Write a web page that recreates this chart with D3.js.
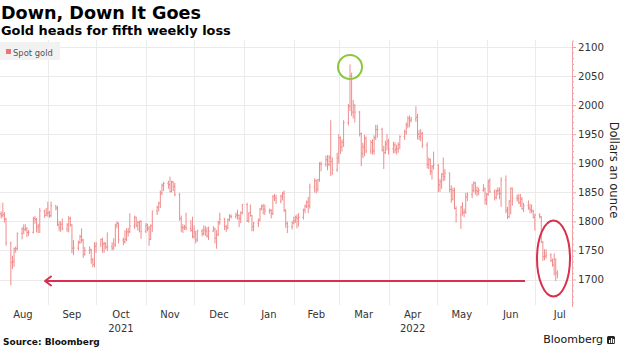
<!DOCTYPE html>
<html><head><meta charset="utf-8">
<script src="https://cdn.jsdelivr.net/npm/d3@7"></script>
<style>body{margin:0;background:#fff}svg{display:block}</style>
</head><body><svg id="c" width="620" height="348"></svg>
<script>
// ---- data: spot gold daily OHLC ----
const dates = [
"2021-08-02","2021-08-03","2021-08-04","2021-08-05","2021-08-06","2021-08-09","2021-08-10","2021-08-11","2021-08-12","2021-08-13","2021-08-16","2021-08-17","2021-08-18","2021-08-19","2021-08-20","2021-08-23","2021-08-24","2021-08-25","2021-08-26","2021-08-27","2021-08-30","2021-08-31",
"2021-09-01","2021-09-02","2021-09-03","2021-09-06","2021-09-07","2021-09-08","2021-09-09","2021-09-10","2021-09-13","2021-09-14","2021-09-15","2021-09-16","2021-09-17","2021-09-20","2021-09-21","2021-09-22","2021-09-23","2021-09-24","2021-09-27","2021-09-28","2021-09-29","2021-09-30",
"2021-10-01","2021-10-04","2021-10-05","2021-10-06","2021-10-07","2021-10-08","2021-10-11","2021-10-12","2021-10-13","2021-10-14","2021-10-15","2021-10-18","2021-10-19","2021-10-20","2021-10-21","2021-10-22","2021-10-25","2021-10-26","2021-10-27","2021-10-28","2021-10-29",
"2021-11-01","2021-11-02","2021-11-03","2021-11-04","2021-11-05","2021-11-08","2021-11-09","2021-11-10","2021-11-11","2021-11-12","2021-11-15","2021-11-16","2021-11-17","2021-11-18","2021-11-19","2021-11-22","2021-11-23","2021-11-24","2021-11-25","2021-11-26","2021-11-29","2021-11-30",
"2021-12-01","2021-12-02","2021-12-03","2021-12-06","2021-12-07","2021-12-08","2021-12-09","2021-12-10","2021-12-13","2021-12-14","2021-12-15","2021-12-16","2021-12-17","2021-12-20","2021-12-21","2021-12-22","2021-12-23","2021-12-24","2021-12-27","2021-12-28","2021-12-29","2021-12-30","2021-12-31",
"2022-01-03","2022-01-04","2022-01-05","2022-01-06","2022-01-07","2022-01-10","2022-01-11","2022-01-12","2022-01-13","2022-01-14","2022-01-17","2022-01-18","2022-01-19","2022-01-20","2022-01-21","2022-01-24","2022-01-25","2022-01-26","2022-01-27","2022-01-28","2022-01-31",
"2022-02-01","2022-02-02","2022-02-03","2022-02-04","2022-02-07","2022-02-08","2022-02-09","2022-02-10","2022-02-11","2022-02-14","2022-02-15","2022-02-16","2022-02-17","2022-02-18","2022-02-21","2022-02-22","2022-02-23","2022-02-24","2022-02-25","2022-02-28",
"2022-03-01","2022-03-02","2022-03-03","2022-03-04","2022-03-07","2022-03-08","2022-03-09","2022-03-10","2022-03-11","2022-03-14","2022-03-15","2022-03-16","2022-03-17","2022-03-18","2022-03-21","2022-03-22","2022-03-23","2022-03-24","2022-03-25","2022-03-28","2022-03-29","2022-03-30","2022-03-31",
"2022-04-01","2022-04-04","2022-04-05","2022-04-06","2022-04-07","2022-04-08","2022-04-11","2022-04-12","2022-04-13","2022-04-14","2022-04-15","2022-04-18","2022-04-19","2022-04-20","2022-04-21","2022-04-22","2022-04-25","2022-04-26","2022-04-27","2022-04-28","2022-04-29",
"2022-05-02","2022-05-03","2022-05-04","2022-05-05","2022-05-06","2022-05-09","2022-05-10","2022-05-11","2022-05-12","2022-05-13","2022-05-16","2022-05-17","2022-05-18","2022-05-19","2022-05-20","2022-05-23","2022-05-24","2022-05-25","2022-05-26","2022-05-27","2022-05-30","2022-05-31",
"2022-06-01","2022-06-02","2022-06-03","2022-06-06","2022-06-07","2022-06-08","2022-06-09","2022-06-10","2022-06-13","2022-06-14","2022-06-15","2022-06-16","2022-06-17","2022-06-20","2022-06-21","2022-06-22","2022-06-23","2022-06-24","2022-06-27","2022-06-28","2022-06-29","2022-06-30",
"2022-07-01","2022-07-04","2022-07-05","2022-07-06","2022-07-07","2022-07-08","2022-07-11","2022-07-12","2022-07-13","2022-07-14","2022-07-15"
];
const opens = [
1813,1813,1810,1812,1804,1763,1729,1731,1753,1753,1779,1787,1786,1788,1781,1781,1805,1803,1790,1793,1818,1810,
1814,1815,1810,1827,1823,1794,1789,1795,1787,1794,1805,1794,1754,1754,1764,1774,1768,1743,1750,1751,1734,1726,
1757,1761,1769,1761,1762,1756,1757,1754,1760,1793,1797,1768,1765,1769,1782,1782,1792,1807,1793,1798,1800,
1783,1793,1788,1769,1792,1818,1824,1831,1849,1862,1865,1863,1851,1868,1860,1846,1805,1790,1789,1790,1788,1785,
1774,1782,1768,1783,1779,1785,1783,1775,1783,1787,1771,1777,1798,1804,1791,1789,1803,1809,1808,1811,1810,1805,1815,
1829,1801,1815,1810,1791,1797,1802,1821,1826,1821,1818,1819,1813,1843,1840,1835,1843,1848,1819,1796,1791,
1797,1801,1807,1805,1807,1820,1826,1833,1827,1859,1870,1855,1872,1899,1898,1906,1898,1910,1903,1889,
1909,1944,1928,1936,1970,1998,2050,1988,2000,1988,1951,1917,1928,1943,1921,1936,1921,1944,1958,1958,1923,1918,1933,
1937,1925,1932,1923,1925,1932,1946,1954,1966,1977,1974,1976,1979,1950,1946,1951,1931,1898,1906,1886,1894,
1897,1863,1868,1881,1877,1883,1855,1838,1853,1822,1811,1825,1815,1816,1842,1846,1853,1866,1853,1851,1853,1856,
1837,1847,1869,1851,1841,1852,1853,1848,1871,1819,1808,1835,1857,1840,1839,1832,1838,1822,1827,1823,1820,1818,
1807,1811,1808,1764,1739,1740,1742,1733,1725,1735,1711
];
const highs = [
1832,1817,1832,1816,1806,1765,1741,1755,1757,1781,1790,1795,1795,1790,1785,1808,1809,1806,1796,1823,1820,1823,
1834,1818,1834,1828,1827,1801,1800,1805,1797,1809,1808,1795,1768,1767,1777,1788,1770,1756,1757,1753,1737,1764,
1765,1770,1772,1765,1764,1781,1764,1771,1796,1800,1798,1772,1785,1788,1789,1814,1810,1808,1801,1801,1802,
1797,1796,1792,1795,1818,1827,1834,1853,1865,1868,1870,1877,1870,1869,1866,1849,1810,1795,1794,1815,1802,1808,
1793,1783,1786,1787,1793,1792,1790,1791,1792,1789,1785,1801,1815,1806,1794,1805,1812,1812,1815,1820,1812,1817,1830,
1832,1815,1829,1811,1799,1805,1823,1829,1830,1829,1822,1821,1845,1847,1846,1846,1851,1853,1821,1800,1801,
1808,1810,1812,1814,1822,1829,1836,1842,1865,1874,1872,1873,1902,1903,1913,1914,1914,1974,1910,1918,
1950,1946,1941,1974,2002,2070,2056,2009,2001,1990,1953,1935,1949,1946,1940,1941,1948,1966,1966,1961,1930,1939,1950,
1942,1937,1936,1932,1936,1948,1958,1970,1981,1982,1980,1998,1985,1957,1959,1954,1936,1910,1908,1897,1920,
1898,1873,1883,1910,1890,1884,1862,1858,1858,1826,1826,1833,1822,1849,1850,1865,1869,1868,1860,1858,1864,1858,
1849,1872,1874,1855,1855,1859,1858,1876,1879,1825,1836,1858,1858,1846,1847,1847,1842,1832,1836,1830,1829,1820,
1813,1814,1809,1766,1752,1752,1745,1736,1745,1736,1716
];
const lows = [
1807,1805,1807,1798,1758,1690,1718,1722,1746,1750,1769,1778,1783,1773,1775,1779,1796,1781,1780,1780,1806,1809,
1808,1806,1807,1819,1792,1783,1782,1785,1782,1781,1791,1745,1742,1750,1761,1763,1737,1741,1744,1727,1721,1721,
1746,1756,1746,1746,1752,1749,1750,1751,1756,1788,1762,1759,1762,1766,1774,1780,1787,1790,1784,1781,1770,
1780,1783,1758,1768,1782,1811,1817,1823,1845,1852,1856,1850,1850,1852,1843,1801,1782,1780,1785,1785,1782,1771,
1770,1762,1765,1774,1776,1775,1772,1768,1782,1762,1753,1775,1794,1785,1782,1786,1800,1805,1805,1803,1790,1797,1812,
1799,1798,1808,1783,1783,1790,1800,1819,1812,1811,1813,1805,1811,1835,1830,1831,1836,1816,1789,1780,1786,
1795,1797,1788,1791,1803,1814,1823,1814,1822,1850,1848,1851,1868,1886,1894,1888,1895,1878,1880,1885,
1899,1916,1920,1928,1965,1990,1981,1977,1970,1946,1895,1909,1912,1917,1916,1915,1915,1940,1944,1920,1890,1916,1922,
1915,1917,1917,1915,1918,1924,1940,1949,1960,1962,1970,1971,1941,1940,1938,1926,1891,1890,1880,1872,1889,
1850,1851,1856,1869,1870,1850,1832,1836,1821,1798,1787,1810,1807,1813,1835,1840,1850,1846,1843,1845,1851,1829,
1828,1844,1849,1836,1838,1845,1838,1825,1814,1804,1806,1812,1827,1834,1830,1825,1820,1816,1820,1814,1814,1805,
1784,1805,1763,1732,1733,1736,1730,1722,1707,1697,1702
];
const closes = [
1813,1810,1812,1804,1763,1729,1731,1753,1753,1779,1787,1786,1788,1781,1781,1805,1803,1790,1793,1818,1810,1814,
1815,1810,1827,1823,1794,1789,1795,1787,1794,1805,1794,1754,1754,1764,1774,1768,1743,1750,1751,1734,1726,1757,
1761,1769,1761,1762,1756,1757,1754,1760,1793,1797,1768,1765,1769,1782,1782,1792,1807,1793,1798,1800,1783,
1793,1788,1769,1792,1818,1824,1831,1849,1862,1865,1863,1851,1868,1860,1846,1805,1790,1789,1790,1788,1785,1774,
1782,1768,1783,1779,1785,1783,1775,1783,1787,1771,1777,1798,1804,1791,1789,1803,1809,1808,1811,1810,1805,1815,1829,
1801,1815,1810,1791,1797,1802,1821,1826,1821,1818,1819,1813,1843,1840,1835,1843,1848,1819,1796,1791,1797,
1801,1807,1805,1807,1820,1826,1833,1827,1859,1870,1855,1872,1899,1898,1906,1898,1910,1903,1889,1909,
1944,1928,1936,1970,1998,2050,1988,2000,1988,1951,1917,1928,1943,1921,1936,1921,1944,1958,1958,1923,1918,1933,1937,
1925,1932,1923,1925,1932,1946,1954,1966,1977,1974,1976,1979,1950,1946,1951,1931,1898,1906,1886,1894,1897,
1863,1868,1881,1877,1883,1855,1838,1853,1822,1811,1825,1815,1816,1842,1846,1853,1866,1853,1851,1853,1856,1837,
1847,1869,1851,1841,1852,1853,1848,1871,1819,1808,1835,1857,1840,1839,1832,1838,1822,1827,1823,1820,1818,1807,
1811,1808,1764,1739,1740,1742,1733,1725,1735,1711,1708
];
const yTicks = [1700,1750,1800,1850,1900,1950,2000,2050,2100];
const monthStarts = ["2021-08-01","2021-09-01","2021-10-01","2021-11-01","2021-12-01","2022-01-01","2022-02-01","2022-03-01","2022-04-01","2022-05-01","2022-06-01","2022-07-01","2022-08-01"];
const monthLabels = ["Aug","Sep","Oct","Nov","Dec","Jan","Feb","Mar","Apr","May","Jun","Jul"];
const yearLabels = ["","","2021","","","","","","2022","","",""];

// ---- drawing ----
const parse = d3.utcParse("%Y-%m-%d");
const svg = d3.select("#c");
const plotTop = 40, plotBottom = 305, axisX = 572;
const x = d3.scaleUtc().domain([parse("2021-08-01"), parse("2022-07-21")]).range([-2, 567]);
const y = d3.scaleLinear().domain([1700, 2100]).range([279.5, 47]);

const FONT = "'DejaVu Sans', Verdana, sans-serif";

// titles
svg.append("text").attr("x", 1).attr("y", 19).attr("font-family", FONT).attr("font-weight", "bold")
  .attr("font-size", 17.6).attr("fill", "#000").text("Down, Down It Goes");
svg.append("text").attr("x", 1).attr("y", 35).attr("font-family", FONT).attr("font-weight", "bold")
  .attr("font-size", 12.9).attr("fill", "#000").text("Gold heads for fifth weekly loss");

// gridlines
const g = svg.append("g");
g.selectAll("line.h").data(yTicks).join("line")
  .attr("x1", 0).attr("x2", axisX).attr("y1", d => Math.round(y(d)) + 0.5).attr("y2", d => Math.round(y(d)) + 0.5)
  .attr("stroke", "#ebebeb").attr("stroke-width", 1);
const mDates = monthStarts.map(parse);
g.selectAll("line.v").data(mDates.filter(d => x(d) > 2 && x(d) < axisX)).join("line")
  .attr("x1", d => Math.round(x(d)) + 0.5).attr("x2", d => Math.round(x(d)) + 0.5)
  .attr("y1", plotTop).attr("y2", plotBottom)
  .attr("stroke", "#ebebeb").attr("stroke-width", 1);

// OHLC bars
const bars = svg.append("g").attr("stroke", "#f08c8c").attr("stroke-width", 1).attr("fill", "none");
const pts = dates.map((d, i) => ({ t: parse(d), o: opens[i], h: highs[i], l: lows[i], c: closes[i] }));
const path = d3.path();
pts.forEach(p => {
  const cx = x(p.t);
  path.moveTo(cx, y(p.h)); path.lineTo(cx, y(p.l));
  path.moveTo(cx - 1, y(p.o)); path.lineTo(cx, y(p.o));
  path.moveTo(cx, y(p.c)); path.lineTo(cx + 1, y(p.c));
});
bars.append("path").attr("d", path.toString());

// legend
svg.append("rect").attr("x", 0).attr("y", 42).attr("width", 60).attr("height", 18).attr("fill", "#f2f2f2");
svg.append("rect").attr("x", 6).attr("y", 49).attr("width", 5).attr("height", 5).attr("fill", "#f07272");
svg.append("text").attr("x", 13).attr("y", 55.5).attr("font-family", FONT).attr("font-size", 8.4)
  .attr("fill", "#555").text("Spot gold");

// right axis
const yAxis = d3.axisRight(y).tickValues(yTicks).tickSize(4).tickPadding(2).tickFormat(d3.format("d"));
const ax = svg.append("g").attr("transform", `translate(${axisX},0)`).call(yAxis);
ax.select(".domain").remove();
ax.selectAll(".tick line").attr("stroke", "#f0a0a0");
ax.selectAll(".tick text").attr("font-family", FONT).attr("font-size", 10.2).attr("fill", "#333");
const minor = d3.range(1660, 2111, 10).filter(v => v % 50 !== 0);
ax.selectAll("line.minor").data(minor).join("line").attr("class", "minor")
  .attr("x1", 0).attr("x2", 2).attr("y1", d => y(d)).attr("y2", d => y(d)).attr("stroke", "#f0a0a0");
ax.append("line").attr("x1", 0.5).attr("x2", 0.5).attr("y1", 42).attr("y2", 307).attr("stroke", "#f0a0a0");

svg.append("text").attr("transform", "translate(610,170) rotate(90)").attr("text-anchor", "middle")
  .attr("font-family", FONT).attr("font-size", 11.5).attr("fill", "#222").text("Dollars an ounce");

// x labels (centered mid-month)
monthLabels.forEach((m, i) => {
  const mid = (x(mDates[i]) + x(mDates[i + 1])) / 2;
  svg.append("text").attr("x", mid).attr("y", 318).attr("text-anchor", "middle")
    .attr("font-family", FONT).attr("font-size", 10).attr("fill", "#333").text(m);
  if (yearLabels[i]) svg.append("text").attr("x", mid).attr("y", 332).attr("text-anchor", "middle")
    .attr("font-family", FONT).attr("font-size", 10).attr("fill", "#333").text(yearLabels[i]);
});

// annotations
const red = "#d9304f";
svg.append("line").attr("x1", 45).attr("x2", 525).attr("y1", 281).attr("y2", 281)
  .attr("stroke", red).attr("stroke-width", 2);
svg.append("path").attr("d", "M51,276.5 L45,281 L51,285.5").attr("fill", "none")
  .attr("stroke", red).attr("stroke-width", 2).attr("stroke-linecap", "round").attr("stroke-linejoin", "round");
svg.append("ellipse").attr("cx", 553.5).attr("cy", 258.5).attr("rx", 16.5).attr("ry", 38)
  .attr("fill", "none").attr("stroke", red).attr("stroke-width", 2);
svg.append("circle").attr("cx", x(parse("2022-03-08"))).attr("cy", 67).attr("r", 12)
  .attr("fill", "none").attr("stroke", "#8cc63e").attr("stroke-width", 2);

// footer
svg.append("text").attr("x", 3).attr("y", 345).attr("font-family", FONT).attr("font-weight", "bold")
  .attr("font-size", 9).attr("fill", "#111").text("Source: Bloomberg");
svg.append("text").attr("x", 603).attr("y", 343).attr("text-anchor", "end").attr("font-family", FONT)
  .attr("font-size", 11).attr("fill", "#111").text("Bloomberg");
svg.append("rect").attr("x", 607).attr("y", 336).attr("width", 8).attr("height", 8).attr("rx", 1.5).attr("fill", "#222");
svg.append("rect").attr("x", 609).attr("y", 340).attr("width", 1.2).attr("height", 3).attr("fill", "#fff");
svg.append("rect").attr("x", 611).attr("y", 338).attr("width", 1.2).attr("height", 5).attr("fill", "#fff");
svg.append("rect").attr("x", 613).attr("y", 339).attr("width", 1.2).attr("height", 4).attr("fill", "#fff");
</script></body></html>
